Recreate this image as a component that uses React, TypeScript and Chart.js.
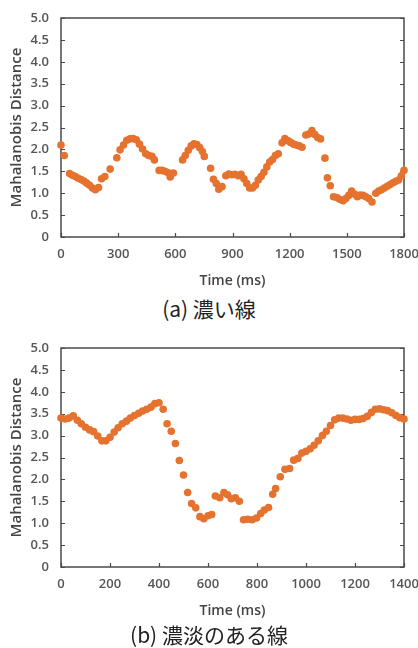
import React, { useEffect, useRef } from 'react';
import { Chart, registerables } from 'chart.js';

Chart.register(...registerables);

// ---- Data: panel (a) ----
const timeA = [0, 17, 45, 60, 75, 90, 105, 120, 135, 150, 165, 180, 197, 213, 230, 258, 293, 310, 328, 345, 362, 378, 395, 412, 428, 445, 460, 477, 490, 515, 530, 545, 560, 573, 590, 638, 652, 668, 683, 698, 713, 728, 742, 752, 785, 800, 815, 828, 845, 865, 880, 897, 913, 930, 945, 960, 975, 990, 1005, 1020, 1035, 1050, 1065, 1080, 1095, 1110, 1125, 1140, 1160, 1175, 1190, 1205, 1220, 1235, 1250, 1265, 1285, 1300, 1317, 1332, 1347, 1362, 1385, 1398, 1413, 1430, 1447, 1463, 1480, 1495, 1510, 1525, 1540, 1555, 1570, 1585, 1600, 1615, 1632, 1652, 1667, 1682, 1697, 1712, 1727, 1742, 1757, 1772, 1786, 1800];
const distA = [2.10, 1.86, 1.45, 1.41, 1.38, 1.34, 1.31, 1.28, 1.23, 1.18, 1.12, 1.08, 1.13, 1.33, 1.38, 1.55, 1.81, 1.99, 2.10, 2.21, 2.24, 2.25, 2.22, 2.12, 2.01, 1.90, 1.86, 1.84, 1.76, 1.52, 1.52, 1.50, 1.47, 1.37, 1.46, 1.76, 1.86, 1.98, 2.08, 2.13, 2.11, 2.04, 1.95, 1.84, 1.57, 1.32, 1.22, 1.09, 1.15, 1.40, 1.44, 1.42, 1.43, 1.40, 1.43, 1.33, 1.22, 1.12, 1.12, 1.18, 1.30, 1.38, 1.48, 1.60, 1.71, 1.77, 1.86, 1.90, 2.15, 2.25, 2.20, 2.16, 2.12, 2.10, 2.08, 2.05, 2.33, 2.35, 2.43, 2.34, 2.27, 2.24, 1.80, 1.35, 1.17, 0.92, 0.90, 0.86, 0.83, 0.88, 0.95, 1.05, 0.98, 0.92, 0.96, 0.95, 0.92, 0.88, 0.80, 1.00, 1.05, 1.08, 1.12, 1.16, 1.20, 1.24, 1.27, 1.30, 1.40, 1.52];
const xTicksA = [0, 300, 600, 900, 1200, 1500, 1800];

// ---- Data: panel (b) ----
const timeB = [0, 17, 33, 50, 67, 83, 100, 117, 133, 150, 167, 183, 200, 217, 233, 250, 267, 283, 300, 317, 333, 350, 367, 383, 400, 417, 433, 450, 467, 483, 500, 517, 533, 550, 567, 583, 600, 615, 630, 648, 665, 680, 695, 712, 728, 745, 762, 780, 798, 815, 830, 847, 864, 876, 895, 914, 933, 950, 967, 983, 1000, 1017, 1033, 1050, 1067, 1083, 1100, 1117, 1133, 1150, 1167, 1183, 1200, 1217, 1233, 1250, 1267, 1283, 1300, 1317, 1333, 1350, 1367, 1383, 1400];
const distB = [3.40, 3.38, 3.40, 3.45, 3.35, 3.27, 3.19, 3.13, 3.09, 2.99, 2.88, 2.88, 2.96, 3.08, 3.18, 3.27, 3.33, 3.40, 3.46, 3.51, 3.56, 3.60, 3.65, 3.73, 3.75, 3.60, 3.27, 3.10, 2.82, 2.43, 2.10, 1.70, 1.45, 1.35, 1.15, 1.10, 1.17, 1.20, 1.62, 1.58, 1.70, 1.65, 1.56, 1.58, 1.50, 1.08, 1.09, 1.08, 1.12, 1.22, 1.30, 1.36, 1.66, 1.79, 2.06, 2.23, 2.25, 2.44, 2.48, 2.60, 2.64, 2.70, 2.78, 2.88, 3.00, 3.10, 3.23, 3.36, 3.40, 3.40, 3.38, 3.35, 3.37, 3.37, 3.39, 3.44, 3.53, 3.60, 3.61, 3.59, 3.57, 3.52, 3.46, 3.41, 3.38];
const xTicksB = [0, 200, 400, 600, 800, 1000, 1200, 1400];

// ---- Shared axis labels ----
const yTicks = [0, 0.5, 1, 1.5, 2, 2.5, 3, 3.5, 4, 4.5, 5];
const yTickLabels = ['0', '0.5', '1.0', '1.5', '2.0', '2.5', '3.0', '3.5', '4.0', '4.5', '5.0'];
const yTitle = 'Mahalanobis Distance';
const xTitle = 'Time (ms)';
const captionA = '(a) 濃い線';
const captionB = '(b) 濃淡のある線';

const POINT_COLOR = '#E5722E';
const AXIS_COLOR = '#4a4a4a';
const TEXT_COLOR = '#555555';
const FONT = "'Open Sans', 'DejaVu Sans', sans-serif";

const framePlugin = {
  id: 'frameTicks',
  beforeDatasetsDraw(chart: any) {
    const { ctx, chartArea } = chart;
    const { left, right, top, bottom } = chartArea;
    ctx.save();
    ctx.strokeStyle = AXIS_COLOR;
    ctx.lineWidth = 1.5;
    ctx.strokeRect(left, top, right - left, bottom - top);
    ctx.lineWidth = 1.2;
    const ys = chart.scales.y;
    ctx.beginPath();
    ys.ticks.forEach((_t: any, i: number) => {
      const py = Math.round(ys.getPixelForTick(i)) + 0.5;
      ctx.moveTo(left, py);
      ctx.lineTo(left + 4, py);
      ctx.moveTo(right, py);
      ctx.lineTo(right - 4, py);
    });
    const xs = chart.scales.x;
    xs.ticks.forEach((_t: any, i: number) => {
      const px = Math.round(xs.getPixelForTick(i)) + 0.5;
      ctx.moveTo(px, bottom);
      ctx.lineTo(px, bottom - 4);
    });
    ctx.stroke();
    ctx.restore();
  },
};

function makeConfig(times: number[], values: number[], xTicks: number[]) {
  const points = times.map((t, i) => ({ x: t, y: values[i] }));
  return {
    type: 'scatter' as const,
    data: {
      datasets: [
        {
          data: points,
          backgroundColor: POINT_COLOR,
          borderColor: POINT_COLOR,
          borderWidth: 0,
          pointRadius: 3.8,
          clip: false as any,
        },
      ],
    },
    options: {
      animation: false as const,
      responsive: false,
      maintainAspectRatio: false,
      layout: { padding: { top: 18, right: 14, left: 0, bottom: 0 } },
      plugins: { legend: { display: false }, tooltip: { enabled: false }, title: { display: false } },
      scales: {
        x: {
          type: 'linear' as const,
          min: xTicks[0],
          max: xTicks[xTicks.length - 1],
          afterBuildTicks: (s: any) => {
            s.ticks = xTicks.map((v) => ({ value: v }));
          },
          afterFit: (s: any) => {
            s.height = 53;
            s.paddingLeft = 0;
            s.paddingRight = 0;
          },
          grid: { display: false, drawTicks: false },
          border: { display: false },
          ticks: {
            padding: 9,
            maxRotation: 0,
            autoSkip: false,
            color: TEXT_COLOR,
            font: { family: FONT, size: 13, weight: 600 as any },
            callback: (v: any) => String(v),
          },
          title: {
            display: true,
            text: xTitle,
            color: '#444444',
            padding: { top: 0, bottom: 1 },
            font: { family: FONT, size: 14, weight: 600 as any },
          },
        },
        y: {
          type: 'linear' as const,
          min: 0,
          max: 5,
          afterBuildTicks: (s: any) => {
            s.ticks = yTicks.map((v) => ({ value: v }));
          },
          afterFit: (s: any) => {
            s.width = 61;
            s.paddingTop = 0;
            s.paddingBottom = 0;
          },
          grid: { display: false, drawTicks: false },
          border: { display: false },
          ticks: {
            padding: 12,
            autoSkip: false,
            color: TEXT_COLOR,
            font: { family: FONT, size: 13, weight: 600 as any },
            callback: (_v: any, i: number) => yTickLabels[i],
          },
          title: {
            display: true,
            text: yTitle,
            color: '#444444',
            padding: { top: 8, bottom: 0 },
            font: { family: FONT, size: 15, weight: 600 as any },
          },
        },
      },
    },
    plugins: [framePlugin],
  };
}

function Panel({ top, times, values, xTicks, caption, captionTop }: any) {
  const ref = useRef<HTMLCanvasElement | null>(null);
  useEffect(() => {
    if (!ref.current) return;
    const chart = new Chart(ref.current, makeConfig(times, values, xTicks) as any);
    return () => chart.destroy();
  }, []);
  return (
    <>
      <canvas
        ref={ref}
        width={418}
        height={290}
        style={{ position: 'absolute', left: 0, top, width: 418, height: 290 }}
      />
      <div
        style={{
          position: 'absolute',
          left: 0,
          width: 418,
          top: captionTop,
          height: 30,
          lineHeight: '30px',
          textAlign: 'center',
          fontFamily: "'Noto Sans CJK JP', 'Open Sans', sans-serif",
          fontSize: 21,
          color: '#222222',
          whiteSpace: 'nowrap',
        }}
      >
        {caption}
      </div>
    </>
  );
}

export default function App() {
  return (
    <div style={{ position: 'absolute', left: 0, top: 0, width: 418, height: 648, background: '#ffffff' }}>
      <Panel top={0} captionTop={293} times={timeA} values={distA} xTicks={xTicksA} caption={captionA} />
      <Panel top={330} captionTop={619} times={timeB} values={distB} xTicks={xTicksB} caption={captionB} />
    </div>
  );
}
